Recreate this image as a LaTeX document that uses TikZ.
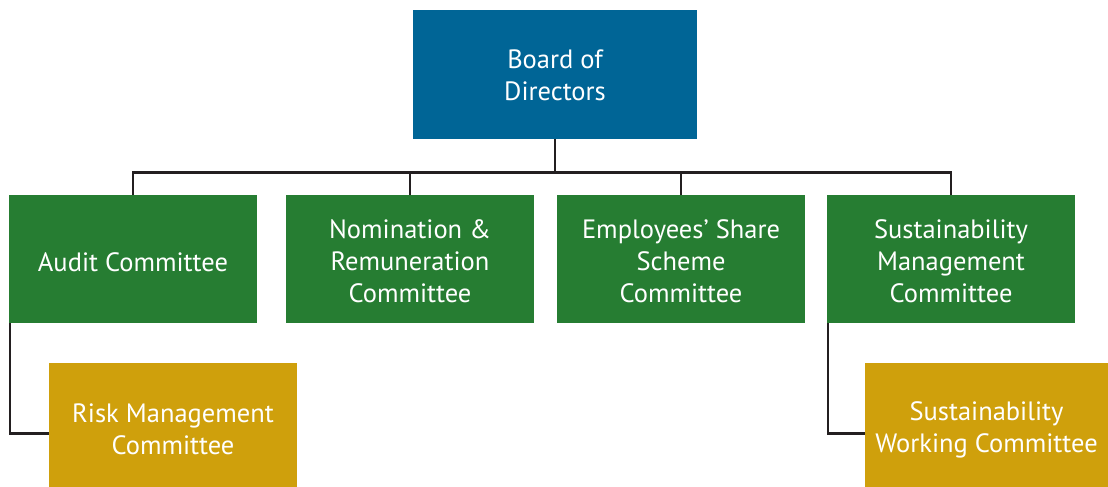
\documentclass[tikz,border=0pt]{standalone}
\usepackage{fontspec}
\setmainfont{PT Sans}
\definecolor{boardblue}{HTML}{006596}
\definecolor{comgreen}{HTML}{267D32}
\definecolor{subgold}{HTML}{CFA00C}
\definecolor{linedark}{HTML}{231F20}
\begin{document}
\begin{tikzpicture}[x=1pt,y=-1pt,
  box/.style={draw=none,text=white,align=center,inner sep=0pt,
    font=\fontsize{26.5}{32}\selectfont},
  boardbox/.style={box,fill=boardblue,minimum width=284pt,minimum height=129pt,text height=53pt},
  combox/.style={box,fill=comgreen,minimum width=248pt,minimum height=128pt,text height=87.4pt},
  subbox/.style={box,fill=subgold,minimum height=124pt,text height=60pt},
  conn/.style={draw=linedark,line width=2.6pt}]
\useasboundingbox (0,0) rectangle (1108,487);
\node[boardbox] (board) at (555,74.5) {Board of\\Directors};
\node[combox,text height=25pt] (audit) at (133,259) {Audit Committee};
\node[combox] (nom) at (410,259) {Nomination \&\\Remuneration\\Committee};
\node[combox] (ess) at (681,259) {Employees’ Share\\Scheme\\Committee};
\node[combox] (smc) at (951,259) {Sustainability\\Management\\Committee};
\node[subbox,minimum width=248pt] (risk) at (173,425) {Risk Management\\Committee};
\node[subbox,minimum width=243pt] (swc) at (986.5,425) {Sustainability\\Working Committee};
\coordinate (bus) at (555,172.5);
\draw[conn] (board.south) -- (bus);
\draw[conn] (audit.north) |- (bus) -| (smc.north);
\draw[conn] (nom.north) -- (nom.north |- bus);
\draw[conn] (ess.north) -- (ess.north |- bus);
\draw[conn] ([xshift=1.3pt]audit.south west) |- ([yshift=-8.5pt]risk.west);
\draw[conn] ([xshift=1.3pt]smc.south west) |- ([yshift=-8.5pt]swc.west);
\end{tikzpicture}
\end{document}
